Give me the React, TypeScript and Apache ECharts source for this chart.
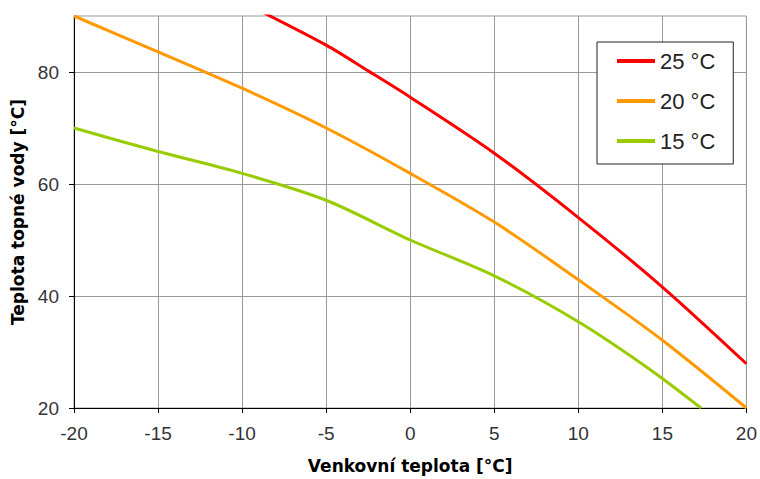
import React, { useEffect, useRef } from "react";
import * as echarts from "echarts";

// Outdoor temperature [°C] and heating-water temperature [°C] for each room temperature
const outdoor25 = [-10, -5, -2.5, 0, 5, 10, 15, 20];
const water25 = [92.5, 84.8, 80.2, 75.5, 65.5, 54, 41.6, 27.9];
const outdoor20 = [-20, -15, -10, -5, 0, 5, 10, 15, 20];
const water20 = [90, 83.6, 77.1, 70, 61.9, 53.2, 42.9, 32.1, 20];
const outdoor15 = [-20, -15, -10, -5, 0, 5, 10, 14.3, 17.3];
const water15 = [70, 65.8, 61.9, 57.1, 50, 43.6, 35.4, 26.8, 20];

const seriesNames = ["25 °C", "20 °C", "15 °C"];
const seriesColors = ["#ff0000", "#ff9900", "#99cc00"];
const yTicks = [20, 40, 60, 80];

const pairs = (xs: number[], ys: number[]) => xs.map((x, i) => [x, ys[i]]);

export default function App() {
  const ref = useRef<HTMLDivElement>(null);
  useEffect(() => {
    document.body.style.margin = "0";
    const chart = echarts.init(ref.current!, undefined, { renderer: "svg" });
    const dataSets = [
      pairs(outdoor25, water25),
      pairs(outdoor20, water20),
      pairs(outdoor15, water15),
    ];
    chart.setOption({
      animation: false,
      backgroundColor: "#ffffff",
      grid: {
        left: 74,
        right: 10,
        top: 16,
        bottom: 71,
        show: true,
        borderColor: "#999999",
        borderWidth: 1,
      },
      legend: {
        orient: "vertical",
        left: 597,
        top: 42,
        padding: [8, 18, 12, 20],
        itemWidth: 38,
        itemHeight: 14,
        itemGap: 18,
        borderColor: "#222222",
        borderWidth: 1,
        backgroundColor: "#ffffff",
        icon: "path://M0,0 L38,0 L38,4 L0,4 Z",
        data: seriesNames,
        textStyle: {
          fontFamily: "Liberation Sans",
          fontSize: 22,
          lineHeight: 22,
          color: "#222222",
        },
      },
      xAxis: {
        type: "value",
        min: -20,
        max: 20,
        interval: 5,
        name: "Venkovní teplota [°C]",
        nameLocation: "middle",
        nameGap: 49,
        nameTextStyle: {
          fontFamily: "DejaVu Sans",
          fontWeight: "bold",
          fontSize: 17,
          color: "#000000",
        },
        axisLine: { show: true, onZero: false, lineStyle: { color: "#000000", width: 1 } },
        axisTick: { show: true, length: 5, lineStyle: { color: "#000000" } },
        axisLabel: {
          margin: 16,
          fontFamily: "Liberation Sans",
          fontSize: 19,
          color: "#333333",
        },
        splitLine: { show: true, lineStyle: { color: "#999999", width: 1 } },
      },
      yAxis: {
        type: "value",
        min: 20,
        max: 90,
        interval: 20,
        name: "Teplota topné vody [°C]",
        nameLocation: "middle",
        nameGap: 43,
        nameTextStyle: {
          fontFamily: "DejaVu Sans",
          fontWeight: "bold",
          fontSize: 17,
          color: "#000000",
        },
        axisLine: { show: true, onZero: false, lineStyle: { color: "#000000", width: 1 } },
        axisTick: { show: true, length: 5, customValues: yTicks, lineStyle: { color: "#000000" } },
        axisLabel: {
          margin: 15,
          customValues: yTicks,
          fontFamily: "Liberation Sans",
          fontSize: 19,
          color: "#333333",
        },
        splitLine: { show: true, lineStyle: { color: "#999999", width: 1 } },
      },
      series: seriesNames.map((name, i) => ({
        name,
        type: "line",
        data: dataSets[i],
        showSymbol: false,
        symbol: "none",
        clip: true,
        smooth: 0.3,
        color: seriesColors[i],
        lineStyle: { color: seriesColors[i], width: 3 },
      })),
    });
    return () => chart.dispose();
  }, []);
  return <div ref={ref} style={{ width: 760, height: 479 }} />;
}
